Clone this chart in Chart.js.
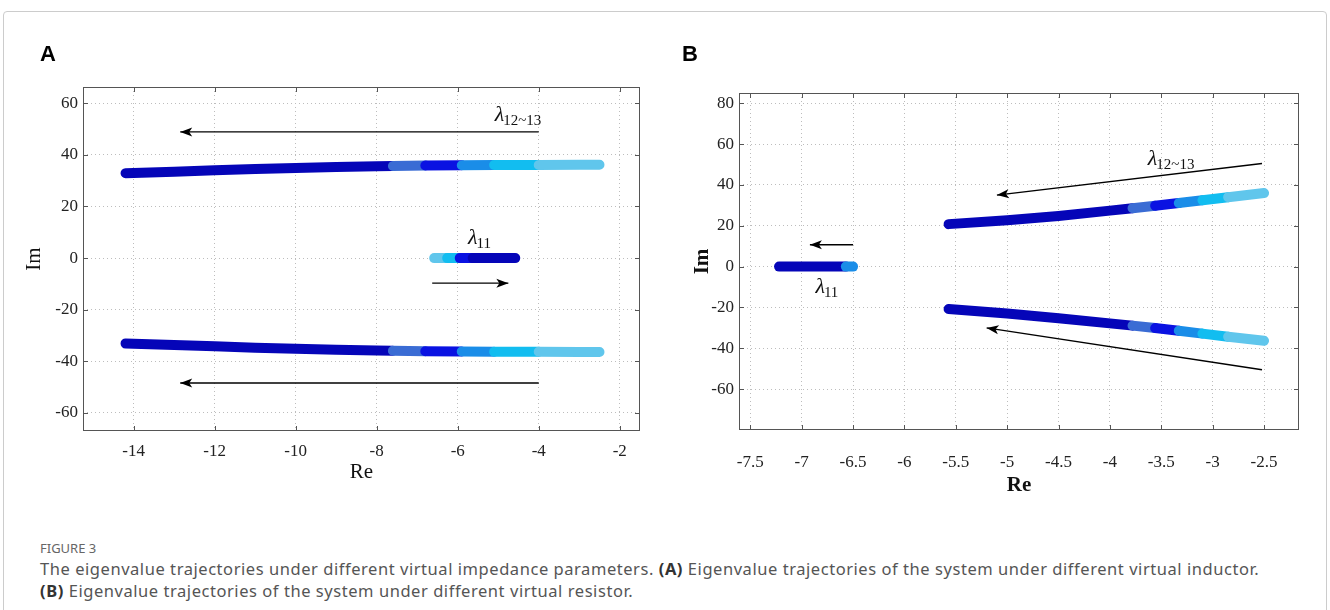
<!DOCTYPE html>
<html>
<head>
<meta charset="utf-8">
<script src="https://cdn.jsdelivr.net/npm/chart.js@4/dist/chart.umd.min.js"></script>
<style>
  body { margin: 0; background: #fff; width: 1330px; height: 610px; overflow: hidden; position: relative; font-family: "Noto Sans", sans-serif; }
  .frame { position: absolute; left: 3px; top: 11px; width: 1322px; height: 650px; border: 1px solid #ccc; border-radius: 4px; }
  .panel { position: absolute; top: 0; }
  .letter { position: absolute; top: 41px; font: bold 22px "Liberation Sans", Arial, sans-serif; color: #000; }
  .cap { position: absolute; left: 40px; white-space: nowrap; color: #555; }
  .txt { font-size: 16.5px; letter-spacing: 0.55px; }
</style>
</head>
<body>
<div class="frame"></div>
<canvas id="chartA" class="panel" style="left:0" width="665" height="510"></canvas>
<canvas id="chartB" class="panel" style="left:665px" width="665" height="510"></canvas>
<div class="letter" style="left:40px">A</div>
<div class="letter" style="left:682px">B</div>
<div class="cap" style="top:539px;font-size:13px;color:#666">FIGURE 3</div>
<div class="cap txt" style="top:557px">The eigenvalue trajectories under different virtual impedance parameters. <b style="color:#333">(A)</b> Eigenvalue trajectories of the system under different virtual inductor.</div>
<div class="cap txt" style="top:579px"><b style="color:#333">(B)</b> Eigenvalue trajectories of the system under different virtual resistor.</div>

<script>
// colour for each step of the parameter sweep
const palette = ["#0505b8", "#3a6cd4", "#0a12e2", "#1a8de8", "#12bdf0", "#60c6ec"];

// ---- panel A: virtual inductor ----
const aTicksX = [-14, -12, -10, -8, -6, -4, -2];
const aTicksY = [-60, -40, -20, 0, 20, 40, 60];

const aUpperRe = [-14.2, -13, -12, -11, -10, -9, -8, -7.6, -6.8, -5.9, -5.1, -4.0, -3.0, -2.5];
const aUpperIm = [32.9, 33.5, 34.0, 34.5, 34.9, 35.3, 35.6, 35.7, 35.9, 36.0, 36.1, 36.1, 36.2, 36.2];
const aLowerRe = [-14.2, -13, -12, -11, -10, -9, -8, -7.6, -6.8, -5.9, -5.1, -4.0, -3.0, -2.5];
const aLowerIm = [-33.1, -33.7, -34.2, -34.7, -35.1, -35.5, -35.8, -35.9, -36.1, -36.2, -36.3, -36.3, -36.4, -36.4];
const aPairStage = [0, 0, 0, 0, 0, 0, 0, 1, 2, 3, 4, 5, 5, 5];

const aRealRe = [-6.58, -6.26, -5.95, -5.63, -4.58];
const aRealIm = [0, 0, 0, 0, 0];
const aRealStage = [5, 4, 2, 0, 0];

const aArrows = [
  { re: [-4.0, -12.85], im: [48.9, 48.9] },
  { re: [-4.0, -12.85], im: [-48.4, -48.4] },
  { re: [-6.63, -4.75], im: [-9.7, -9.7] },
];
const aNotes = [
  { re: -4.5, im: 55, sub: "12~13" },
  { re: -5.45, im: 7.5, sub: "11" },
];

// ---- panel B: virtual resistor ----
const bTicksX = [-7.5, -7, -6.5, -6, -5.5, -5, -4.5, -4, -3.5, -3, -2.5];
const bTicksY = [-60, -40, -20, 0, 20, 40, 60, 80];

const bUpperRe = [-5.57, -5.0, -4.5, -4.0, -3.78, -3.56, -3.33, -3.1, -2.85, -2.5];
const bUpperIm = [20.8, 22.7, 24.8, 27.4, 28.6, 29.8, 31.1, 32.5, 34.0, 36.0];
const bLowerRe = [-5.57, -5.0, -4.5, -4.0, -3.78, -3.56, -3.33, -3.1, -2.85, -2.5];
const bLowerIm = [-20.8, -23.0, -25.3, -27.8, -28.9, -30.1, -31.4, -32.8, -34.3, -36.3];
const bPairStage = [0, 0, 0, 0, 1, 2, 3, 4, 5, 5];

const bRealRe = [-7.22, -6.57, -6.5];
const bRealIm = [0, 0, 0];
const bRealStage = [0, 3, 3];

const bArrows = [
  { re: [-2.52, -5.1], im: [50.5, 35] },
  { re: [-2.52, -5.2], im: [-50.5, -30] },
  { re: [-6.5, -6.92], im: [10.7, 10.7] },
];
const bNotes = [
  { re: -3.4, im: 52, sub: "12~13" },
  { re: -6.75, im: -10.5, sub: "11" },
];

function toPoints(re, im) {
  return re.map((v, i) => ({ x: v, y: im[i] }));
}

function track(re, im, stage) {
  return {
    data: toPoints(re, im),
    showLine: true,
    pointRadius: 0,
    borderWidth: 10,
    borderCapStyle: "round",
    borderJoinStyle: "round",
    borderColor: palette[stage[0]],
    segment: { borderColor: ctx => palette[stage[ctx.p0DataIndex]] },
  };
}

function arrow(a) {
  return {
    data: toPoints(a.re, a.im),
    showLine: true,
    pointRadius: 0,
    borderWidth: 1.4,
    borderColor: "#000",
    arrow: true,
  };
}

// matlab style box with inward ticks
const boxPlugin = {
  id: "box",
  afterDatasetsDraw(chart) {
    const { ctx, chartArea: a, scales: { x, y } } = chart;
    ctx.save();
    ctx.strokeStyle = "#555";
    ctx.lineWidth = 1;
    ctx.strokeRect(a.left + 0.5, a.top + 0.5, a.width - 1, a.height - 1);
    ctx.beginPath();
    x.ticks.forEach(t => {
      const px = Math.round(x.getPixelForValue(t.value)) + 0.5;
      ctx.moveTo(px, a.bottom); ctx.lineTo(px, a.bottom - 5);
      ctx.moveTo(px, a.top); ctx.lineTo(px, a.top + 5);
    });
    y.ticks.forEach(t => {
      const py = Math.round(y.getPixelForValue(t.value)) + 0.5;
      ctx.moveTo(a.left, py); ctx.lineTo(a.left + 5, py);
      ctx.moveTo(a.right, py); ctx.lineTo(a.right - 5, py);
    });
    ctx.stroke();
    ctx.restore();
  },
};

// arrow heads and lambda labels
const notePlugin = {
  id: "notes",
  afterDatasetsDraw(chart, args, opts) {
    const { ctx, scales: { x, y } } = chart;
    chart.data.datasets.forEach((ds, i) => {
      if (!ds.arrow) return;
      const pts = chart.getDatasetMeta(i).data;
      const h = pts[pts.length - 1], t = pts[pts.length - 2];
      ctx.save();
      ctx.translate(h.x, h.y);
      ctx.rotate(Math.atan2(h.y - t.y, h.x - t.x));
      ctx.beginPath();
      ctx.moveTo(0, 0);
      ctx.lineTo(-12, -4.5);
      ctx.lineTo(-9, 0);
      ctx.lineTo(-12, 4.5);
      ctx.closePath();
      ctx.fillStyle = "#000";
      ctx.fill();
      ctx.restore();
    });
    (opts.notes || []).forEach(n => {
      const px = x.getPixelForValue(n.re), py = y.getPixelForValue(n.im);
      ctx.save();
      ctx.fillStyle = "#111";
      ctx.textBaseline = "alphabetic";
      ctx.font = 'italic 22px "Liberation Serif"';
      const w1 = ctx.measureText("λ").width;
      ctx.font = '15px "Liberation Serif"';
      const w2 = ctx.measureText(n.sub).width;
      const sx = px - (w1 + w2) / 2;
      ctx.font = 'italic 22px "Liberation Serif"';
      ctx.fillText("λ", sx, py + 5);
      ctx.font = '15px "Liberation Serif"';
      ctx.fillText(n.sub, sx + w1 - 1, py + 9);
      ctx.restore();
    });
  },
};

function makeChart(id, cfg) {
  const tickFont = { family: "Liberation Serif", size: 17 };
  return new Chart(document.getElementById(id), {
    type: "scatter",
    data: { datasets: cfg.datasets },
    options: {
      responsive: false,
      animation: false,
      devicePixelRatio: 1,
      layout: { padding: { top: cfg.top, right: cfg.right, left: 0, bottom: 0 } },
      plugins: { legend: { display: false }, tooltip: { enabled: false }, notes: { notes: cfg.notes } },
      scales: {
        x: {
          type: "linear",
          min: cfg.xMin, max: cfg.xMax,
          afterBuildTicks: s => { s.ticks = cfg.ticksX.map(v => ({ value: v })); },
          afterFit: s => { s.height = cfg.xAxisH; },
          ticks: { font: tickFont, color: "#222", padding: cfg.xTickPad, maxRotation: 0, autoSkip: false, callback: v => String(v) },
          grid: { color: "#bdbdbd", lineWidth: 1, drawTicks: false },
          border: { display: false, dash: [1, 3] },
          title: { display: true, text: "Re", color: "#111", font: { family: "Liberation Serif", size: 21, weight: cfg.bold ? "bold" : "normal" }, padding: { top: 0, bottom: cfg.rePad } },
        },
        y: {
          type: "linear",
          min: cfg.yMin, max: cfg.yMax,
          afterBuildTicks: s => { s.ticks = cfg.ticksY.map(v => ({ value: v })); },
          afterFit: s => { s.width = cfg.yAxisW; },
          ticks: { font: tickFont, color: "#222", padding: 5, autoSkip: false, callback: v => String(v) },
          grid: { color: "#bdbdbd", lineWidth: 1, drawTicks: false },
          border: { display: false, dash: [1, 3] },
          title: { display: true, text: "Im", color: "#111", font: { family: "Liberation Serif", size: 21, weight: cfg.bold ? "bold" : "normal" }, padding: { top: cfg.imPad, bottom: 0 } },
        },
      },
    },
    plugins: [boxPlugin, notePlugin],
  });
}

makeChart("chartA", {
  datasets: [
    track(aUpperRe, aUpperIm, aPairStage),
    track(aLowerRe, aLowerIm, aPairStage),
    track(aRealRe, aRealIm, aRealStage),
    ...aArrows.map(arrow),
  ],
  notes: aNotes,
  ticksX: aTicksX, ticksY: aTicksY,
  xMin: -15.25, xMax: -1.5, yMin: -67, yMax: 66.3,
  top: 87, right: 25, yAxisW: 83, xAxisH: 79,
  xTickPad: 10, rePad: 25, imPad: 22, bold: false,
});

makeChart("chartB", {
  datasets: [
    track(bUpperRe, bUpperIm, bPairStage),
    track(bLowerRe, bLowerIm, bPairStage),
    track(bRealRe, bRealIm, bRealStage),
    ...bArrows.map(arrow),
  ],
  notes: bNotes,
  ticksX: bTicksX, ticksY: bTicksY,
  xMin: -7.61, xMax: -2.16, yMin: -80, yMax: 85,
  top: 93, right: 31, yAxisW: 74, xAxisH: 80,
  xTickPad: 22, rePad: 12, imPad: 25, bold: true,
});
</script>
</body>
</html>
